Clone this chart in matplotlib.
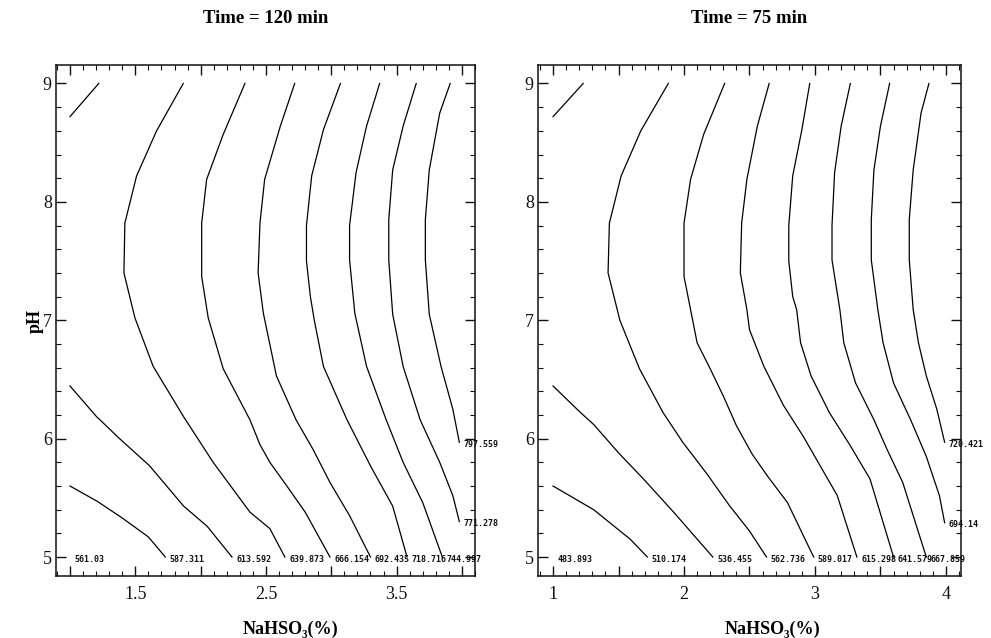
import matplotlib
matplotlib.use("Agg")
import matplotlib.pyplot as plt
from matplotlib.ticker import MultipleLocator, FixedLocator, FixedFormatter

nan = float("nan")

titles = ["Time = 120 min", "Time = 75 min"]
xlabel = "NaHSO\u2083(%)"
ylabel = "pH"
yticks = [5, 6, 7, 8, 9]
xticks = [1.0, 1.5, 2.0, 2.5, 3.0, 3.5, 4.0]
xticklabels_120 = ["", "1.5", "", "2.5", "", "3.5", ""]
xticklabels_75 = ["1", "", "2", "", "3", "", "4"]

# ---- Time = 120 min : contour levels and traced contour lines (NaN separates pieces)
t120_levels = [561.03, 587.311, 613.592, 639.873, 666.154, 692.435, 718.716, 744.997, 771.278, 797.559]
t120_x = [
    [1.0],
    [1.0, 1.21, 1.40, 1.60, 1.73],
    [1.0, 1.22, nan, 1.0, 1.20, 1.37, 1.61, 1.87, 2.05, 2.24],
    [1.867, 1.663, 1.51, 1.42, 1.413, 1.497, 1.637, 1.867, 2.096, 2.377, 2.53, 2.645],
    [2.339, 2.173, 2.046, 2.008, 2.008, 2.058, 2.173, 2.377, 2.454, 2.53, 2.66, 2.80, 2.99],
    [2.72, 2.61, 2.49, 2.454, 2.44, 2.48, 2.58, 2.73, 2.86, 2.99, 3.14, 3.30],
    [3.07, 2.94, 2.85, 2.81, 2.81, 2.84, 2.87, 2.94, 3.12, 3.30, 3.47, 3.58],
    [3.37, 3.27, 3.19, 3.14, 3.14, 3.18, 3.27, 3.42, 3.55, 3.70, 3.85],
    [3.65, 3.55, 3.47, 3.44, 3.44, 3.47, 3.55, 3.68, 3.83, 3.93, 3.98],
    [3.91, 3.83, 3.75, 3.72, 3.72, 3.75, 3.84, 3.93, 3.98],
]
t120_y = [
    [5.0],
    [5.60, 5.47, 5.33, 5.17, 5.0],
    [8.72, 9.0, nan, 6.445, 6.19, 6.01, 5.77, 5.43, 5.26, 5.0],
    [9.0, 8.6, 8.22, 7.82, 7.40, 7.02, 6.61, 6.19, 5.80, 5.38, 5.24, 5.0],
    [9.0, 8.57, 8.19, 7.82, 7.37, 7.02, 6.59, 6.16, 5.95, 5.80, 5.60, 5.38, 5.0],
    [9.0, 8.64, 8.19, 7.82, 7.40, 7.06, 6.53, 6.16, 5.91, 5.63, 5.35, 5.0],
    [9.0, 8.61, 8.22, 7.80, 7.50, 7.20, 7.0, 6.61, 6.16, 5.77, 5.43, 5.0],
    [9.0, 8.64, 8.25, 7.80, 7.51, 7.06, 6.61, 6.16, 5.80, 5.46, 5.0],
    [9.0, 8.64, 8.27, 7.85, 7.51, 7.05, 6.61, 6.16, 5.80, 5.52, 5.30],
    [9.0, 8.75, 8.27, 7.85, 7.51, 7.05, 6.61, 6.25, 5.97],
]

# ---- Time = 75 min
t75_levels = [483.893, 510.174, 536.455, 562.736, 589.017, 615.298, 641.579, 667.859, 694.14, 720.421]
t75_x = [
    [1.0],
    [1.0, 1.31, 1.59, 1.72],
    [1.0, 1.23, nan, 1.0, 1.21, 1.31, 1.50, 1.69, 1.92, 2.22],
    [1.88, 1.67, 1.52, 1.43, 1.42, 1.49, 1.51, 1.66, 1.84, 1.99, 2.17, 2.35, 2.50, 2.63],
    [2.31, 2.15, 2.05, 2.0, 2.0, 2.05, 2.10, 2.20, 2.30, 2.40, 2.52, 2.64, 2.79, 2.99],
    [2.65, 2.56, 2.48, 2.44, 2.43, 2.48, 2.50, 2.61, 2.76, 2.91, 3.04, 3.17, 3.32],
    [2.96, 2.90, 2.83, 2.80, 2.80, 2.83, 2.86, 2.89, 2.97, 3.11, 3.27, 3.42, 3.60],
    [3.27, 3.20, 3.15, 3.13, 3.13, 3.19, 3.22, 3.31, 3.45, 3.55, 3.67, 3.85],
    [3.57, 3.50, 3.45, 3.43, 3.43, 3.48, 3.52, 3.60, 3.73, 3.85, 3.95, 3.99],
    [3.87, 3.81, 3.75, 3.72, 3.72, 3.75, 3.79, 3.85, 3.93, 3.99],
]
t75_y = [
    [5.0],
    [5.60, 5.40, 5.15, 5.0],
    [8.72, 9.0, nan, 6.445, 6.22, 6.12, 5.88, 5.66, 5.38, 5.0],
    [9.0, 8.6, 8.22, 7.82, 7.40, 7.09, 7.0, 6.59, 6.22, 5.97, 5.71, 5.43, 5.22, 5.0],
    [9.0, 8.57, 8.19, 7.82, 7.37, 7.09, 6.81, 6.59, 6.36, 6.11, 5.87, 5.68, 5.46, 5.0],
    [9.0, 8.64, 8.19, 7.82, 7.40, 7.09, 6.92, 6.61, 6.28, 6.02, 5.77, 5.52, 5.0],
    [9.0, 8.61, 8.22, 7.80, 7.50, 7.20, 7.09, 6.81, 6.53, 6.22, 5.94, 5.66, 5.0],
    [9.0, 8.64, 8.25, 7.80, 7.51, 7.09, 6.81, 6.47, 6.16, 5.91, 5.63, 5.0],
    [9.0, 8.64, 8.27, 7.85, 7.51, 7.09, 6.81, 6.47, 6.16, 5.85, 5.52, 5.29],
    [9.0, 8.75, 8.27, 7.85, 7.51, 7.09, 6.81, 6.53, 6.25, 5.97],
]

serif = ["Liberation Serif", "DejaVu Serif"]

fig = plt.figure(figsize=(9.91, 6.38), dpi=100)
W, H = 991.0, 638.0
ax1 = fig.add_axes([56 / W, 1 - 576 / H, (475 - 56) / W, (576 - 65) / H])
ax2 = fig.add_axes([538 / W, 1 - 576 / H, (961 - 538) / W, (576 - 65) / H])

panels = [
    (ax1, t120_levels, t120_x, t120_y, xticklabels_120, (0.893, 4.10), titles[0], 0.56),
    (ax2, t75_levels, t75_x, t75_y, xticklabels_75, (0.885, 4.115), titles[1], 0.555),
]

for ax, levels, xs, ys, xtl, xlim, title, xlab_pos in panels:
    for lev, xx, yy in zip(levels, xs, ys):
        ax.plot(xx, yy, color="black", lw=0.9, solid_joinstyle="miter")
        ax.annotate(f"{lev:g}", xy=(xx[-1], yy[-1]), xytext=(3, -1.5),
                    textcoords="offset points", ha="left", va="center",
                    fontsize=6.0, fontweight="bold", family="DejaVu Sans Mono",
                    color="#111111", annotation_clip=False)
    ax.set_xlim(*xlim)
    ax.set_ylim(4.84, 9.156)
    ax.xaxis.set_major_locator(FixedLocator(xticks))
    ax.xaxis.set_major_formatter(FixedFormatter(xtl))
    ax.xaxis.set_minor_locator(MultipleLocator(0.1))
    ax.yaxis.set_major_locator(FixedLocator(yticks))
    ax.yaxis.set_minor_locator(MultipleLocator(0.2))
    ax.tick_params(which="both", direction="in", top=True, right=True, colors="#111111")
    ax.tick_params(which="major", length=7, width=1.0)
    ax.tick_params(which="minor", length=3.5, width=0.8)
    ax.tick_params(axis="x", which="major", pad=7, labelsize=13)
    ax.tick_params(axis="y", which="major", pad=3, labelsize=13)
    for lbl in ax.get_xticklabels() + ax.get_yticklabels():
        lbl.set_family(serif)
    for sp in ax.spines.values():
        sp.set_linewidth(1.1)
        sp.set_color("#111111")
    ax.set_title(title, fontsize=13.5, fontweight="bold", family=serif, pad=30)
    ax.set_xlabel(xlabel, fontsize=13, fontweight="bold", family=serif, labelpad=13,
                  x=xlab_pos)

ax1.set_ylabel(ylabel, fontsize=13, fontweight="bold", family=serif, labelpad=-1)

fig.savefig("out.png", dpi=100)
